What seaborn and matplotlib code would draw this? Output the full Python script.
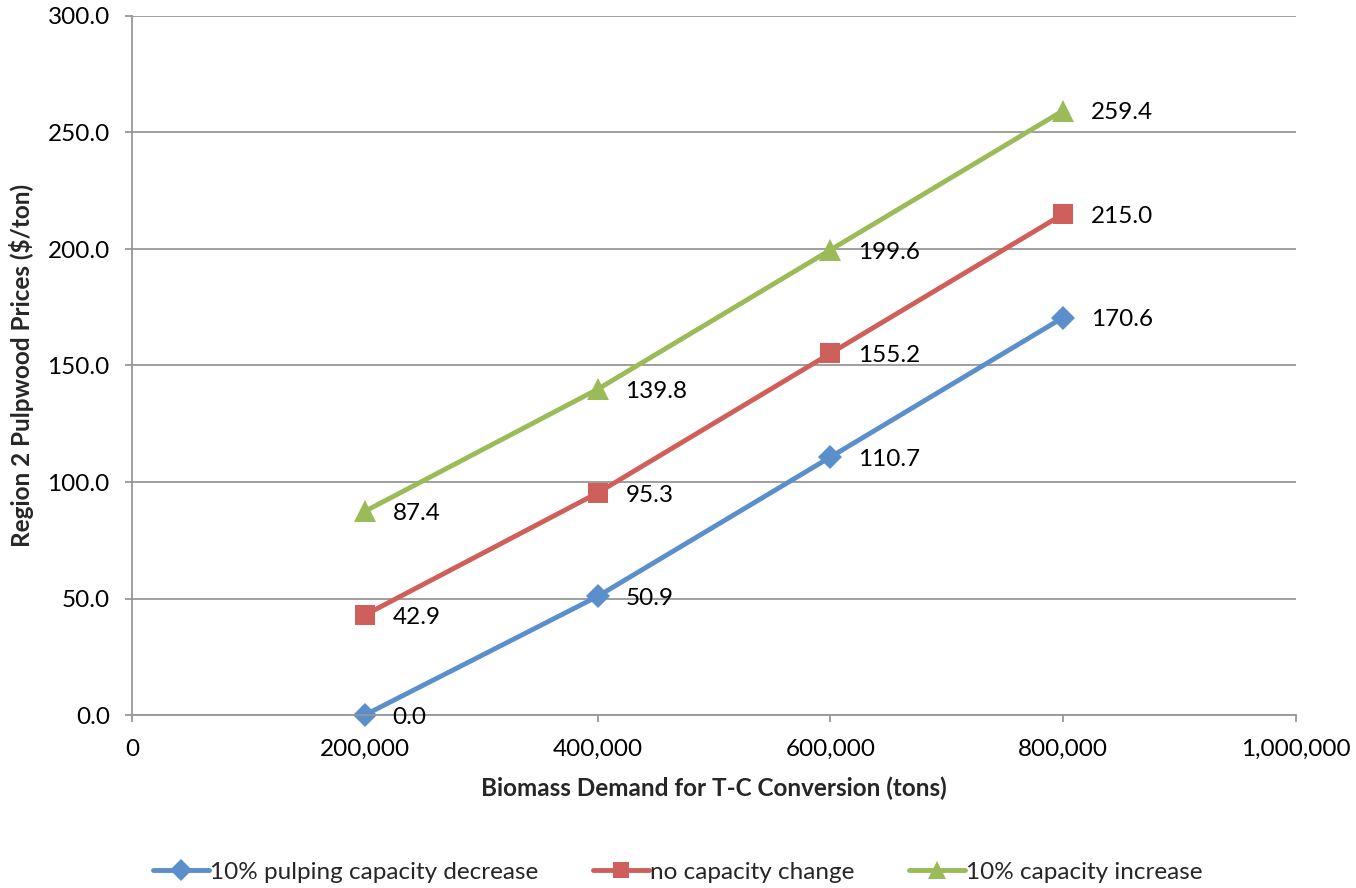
import matplotlib
matplotlib.use("Agg")
import matplotlib.pyplot as plt
import matplotlib.ticker as mticker
import seaborn as sns
import pandas as pd

# Biomass demand levels (tons) and resulting pulpwood prices ($/ton)
demand = [200000, 400000, 600000, 800000]
decrease_prices = [0.0, 50.9, 110.7, 170.6]
no_change_prices = [42.9, 95.3, 155.2, 215.0]
increase_prices = [87.4, 139.8, 199.6, 259.4]
series_names = ["10% pulping capacity decrease", "no capacity change", "10% capacity increase"]

df = pd.concat([
    pd.DataFrame({"demand": demand, "price": vals, "scenario": name})
    for name, vals in zip(series_names, [decrease_prices, no_change_prices, increase_prices])
], ignore_index=True)

sns.set_theme(style="white")
plt.rcParams["font.family"] = ["Lato", "DejaVu Sans"]

FS = 17.5
colors = ["#5A8FCC", "#CF5F5B", "#9BBB59"]
markers = ["D", "s", "^"]
msizes = [12, 14, 16]

fig = plt.figure(figsize=(13.56, 8.88), dpi=100)
ax = fig.add_axes([132 / 1356, 1 - 715 / 888, (1296 - 132) / 1356, (715 - 16) / 888])

sns.lineplot(data=df, x="demand", y="price", hue="scenario", style="scenario",
             palette=colors, markers=markers, dashes=False, linewidth=3.5,
             markeredgewidth=0, ax=ax, legend=False)
for line, ms in zip(ax.get_lines(), msizes):
    line.set_markersize(ms)
    line.set_clip_on(False)

# value labels beside each point
for name, vals in zip(series_names, [decrease_prices, no_change_prices, increase_prices]):
    for x, y in zip(demand, vals):
        ax.annotate(f"{y:.1f}", (x, y), xytext=(20, -1.5), textcoords="offset points",
                    ha="left", va="center", fontsize=FS, color="black")

ax.set_xlim(0, 1000000)
ax.set_ylim(0, 300)
ax.xaxis.set_major_locator(mticker.MultipleLocator(200000))
ax.yaxis.set_major_locator(mticker.MultipleLocator(50))
ax.xaxis.set_major_formatter(mticker.FuncFormatter(lambda v, p: f"{int(v):,}"))
ax.yaxis.set_major_formatter(mticker.FormatStrFormatter("%.1f"))

ax.grid(axis="y", color="#979797", linewidth=1.3)
ax.grid(axis="x", visible=False)
for side in ["top", "right"]:
    ax.spines[side].set_visible(False)
for side in ["left", "bottom"]:
    ax.spines[side].set_color("#979797")
    ax.spines[side].set_linewidth(1.3)
ax.tick_params(axis="both", which="major", length=5, width=1.3, color="#979797",
               labelsize=FS, labelcolor="black", left=True, bottom=True)
ax.tick_params(axis="x", pad=12)
ax.tick_params(axis="y", pad=11)

ax.set_xlabel("Biomass Demand for T-C Conversion (tons)", fontsize=FS, fontweight="bold", labelpad=12)
ax.set_ylabel("Region 2 Pulpwood Prices ($/ton)", fontsize=FS, fontweight="bold", labelpad=10)

handles = [plt.Line2D([], [], color=c, marker=m, markersize=ms, linewidth=3.5, markeredgewidth=0)
           for c, m, ms in zip(colors, markers, [11, 12, 13])]
fig.legend(handles, series_names, loc="center", bbox_to_anchor=(0.5, 1 - 872 / 888),
           ncol=3, frameon=False, fontsize=FS, handlelength=2.3, handletextpad=0.05,
           columnspacing=2.25)

fig.savefig("out.png", dpi=100)
